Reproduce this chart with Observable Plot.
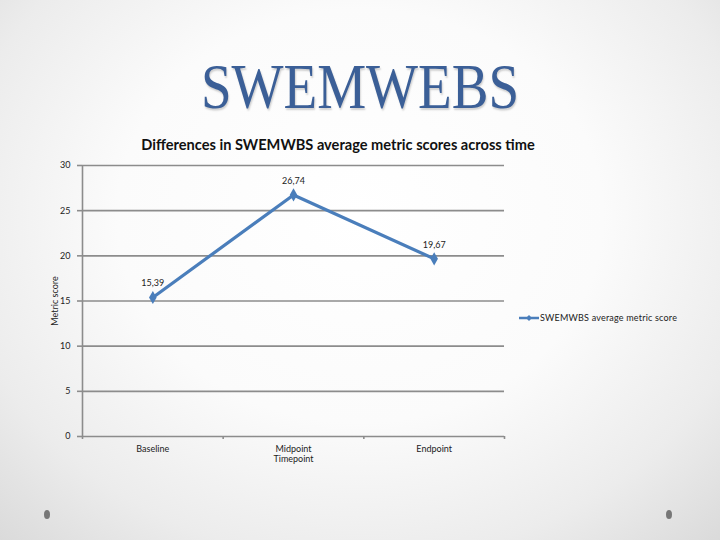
<!DOCTYPE html>
<html>
<head>
<meta charset="utf-8">
<script src="https://cdn.jsdelivr.net/npm/d3@7"></script>
<script src="https://cdn.jsdelivr.net/npm/@observablehq/plot@0.6"></script>
<style>
  html, body { margin: 0; padding: 0; }
  body {
    width: 720px; height: 540px; overflow: hidden; position: relative;
    background: radial-gradient(ellipse 75% 85% at 50% 40%, #ffffff 0%, #fbfbfb 45%, #ececec 75%, #d8d8d8 100%);
    font-family: Lato, "Open Sans", sans-serif;
  }
  #title {
    position: absolute; left: 0; width: 720px; top: 55px; text-align: center;
    font-family: "Liberation Serif", "DejaVu Serif", serif; font-size: 64px; color: #3b5f97;
    transform: scaleX(0.86); transform-origin: 360px 0;
    text-shadow: 1px 2px 2px rgba(0,0,0,0.18); line-height: 1;
  }
  #subtitle {
    position: absolute; left: 100px; width: 476px; top: 136px; text-align: center;
    font-weight: bold; font-size: 14.6px; color: #111; white-space: nowrap;
  }
  #chart { position: absolute; left: 0; top: 0; }
  #legend {
    position: absolute; left: 519px; top: 312px; font-size: 9px; color: #222;
    display: flex; align-items: center; white-space: nowrap; letter-spacing: 0.2px;
  }
  .bullet { position: absolute; width: 6px; height: 9px; border-radius: 50%; background: #777; }
</style>
</head>
<body>
<div id="title">SWEMWEBS</div>
<div id="subtitle"></div>
<div id="chart"></div>
<div id="legend"></div>
<div class="bullet" style="left:44px; top:510px"></div>
<div class="bullet" style="left:666px; top:510px"></div>
<script>
const chartTitle = "Differences in SWEMWBS average metric scores across time";
const categories = ["Baseline", "Midpoint", "Endpoint"];
const values = [15.39, 26.74, 19.67];
const seriesName = "SWEMWBS average metric score";
const xTitle = "Timepoint";
const yTitle = "Metric score";
const yTicks = [0, 5, 10, 15, 20, 25, 30];

const lineColor = "#4a7ebb";
const gridColor = "#8c8c8c";

document.getElementById("subtitle").textContent = chartTitle;

const data = categories.map((c, i) => ({pos: i + 0.5, cat: c, value: values[i], label: String(values[i]).replace(".", ",")}));
const boundaries = d3.range(categories.length + 1);

const plot = Plot.plot({
  width: 720,
  height: 540,
  marginLeft: 82,
  marginRight: 216,
  marginTop: 165,
  marginBottom: 104,
  style: {background: "transparent", fontFamily: "Lato, 'Open Sans', sans-serif", color: "#222"},
  x: {type: "linear", domain: [0, categories.length]},
  y: {domain: [0, 30]},
  marks: [
    Plot.gridY(yTicks.filter(t => t > 0), {stroke: gridColor, strokeOpacity: 1, strokeWidth: 1.6}),
    Plot.ruleY([0], {stroke: gridColor, strokeWidth: 1.6}),
    Plot.ruleX([0], {stroke: gridColor, strokeWidth: 1.6}),
    Plot.axisY({ticks: yTicks, tickSize: 5, tickPadding: 7, fontSize: 9, stroke: gridColor, strokeWidth: 1.6, label: null}),
    Plot.axisX({ticks: boundaries, tickSize: 3, tickFormat: () => "", stroke: gridColor, strokeWidth: 1.6, label: null}),
    Plot.axisX({ticks: data.map(d => d.pos), tickSize: 0, tickPadding: 9, fontSize: 9, tickFormat: (d, i) => categories[i], label: null}),
    Plot.text([xTitle], {frameAnchor: "bottom", dy: 25, fontSize: 9}),
    Plot.text([yTitle], {frameAnchor: "left", textAnchor: "middle", rotate: -90, dx: -27, fontSize: 9}),
    Plot.line(data, {x: "pos", y: "value", stroke: lineColor, strokeWidth: 3.2}),
    Plot.dot(data, {x: "pos", y: "value", symbol: "diamond", r: 4, fill: lineColor}),
    Plot.text(data, {x: "pos", y: "value", text: "label", dy: -14, fontSize: 9})
  ]
});
document.getElementById("chart").appendChild(plot);

document.getElementById("legend").innerHTML =
  `<svg width="20" height="8"><line x1="0" y1="4" x2="20" y2="4" stroke="${lineColor}" stroke-width="2.5"/>` +
  `<path d="M10 1 L13 4 L10 7 L7 4 Z" fill="${lineColor}"/></svg><span style="margin-left:1px">${seriesName}</span>`;
</script>
</body>
</html>
